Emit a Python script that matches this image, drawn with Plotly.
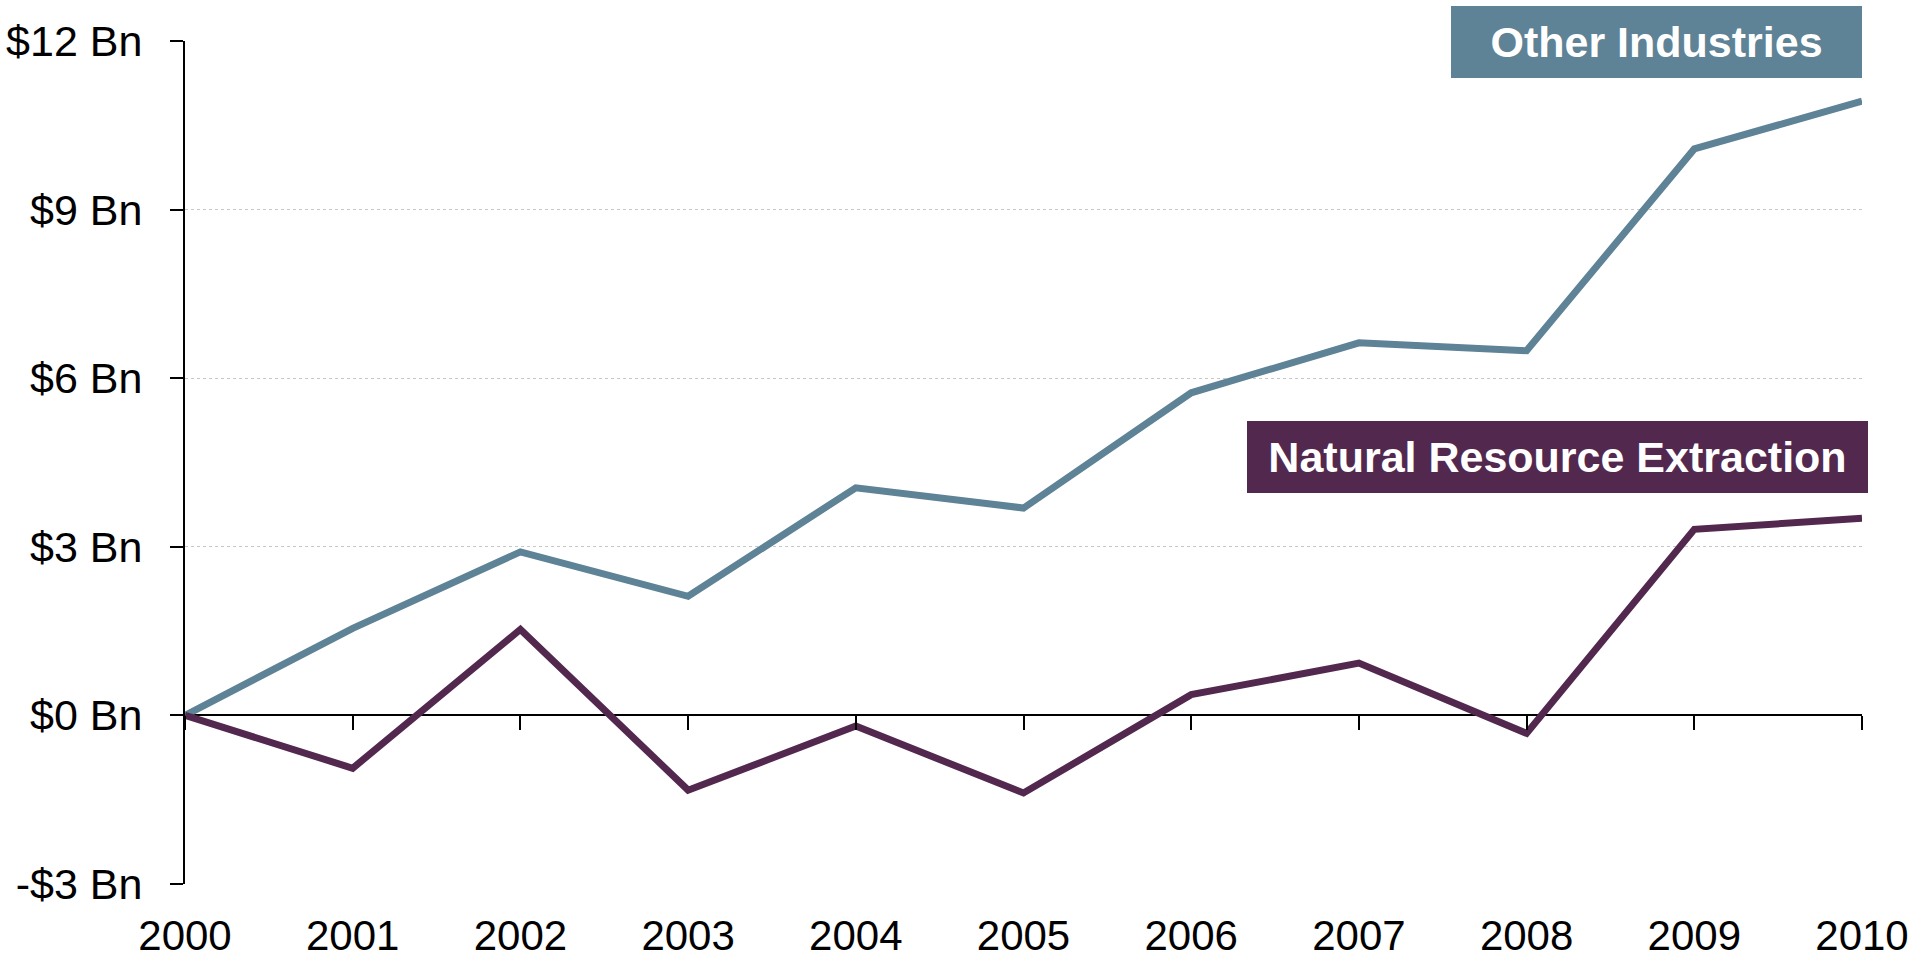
import plotly.graph_objects as go

years = [2000, 2001, 2002, 2003, 2004, 2005, 2006, 2007, 2008, 2009, 2010]
other_industries = [0, 1.55, 2.91, 2.12, 4.05, 3.69, 5.74, 6.63, 6.49, 10.08, 10.93]
natural_resource = [0, -0.94, 1.53, -1.33, -0.19, -1.38, 0.37, 0.93, -0.32, 3.31, 3.51]
y_ticks = [-3, 0, 3, 6, 9, 12]
y_labels = ["-$3 Bn", "$0 Bn", "$3 Bn", "$6 Bn", "$9 Bn", "$12 Bn"]

BLUE = "#5E8296"
PURPLE = "#53284F"
FONT = "Liberation Sans, Arial, sans-serif"

fig = go.Figure()
fig.add_trace(go.Scatter(x=years, y=other_industries, mode="lines", name="Other Industries",
                         line=dict(color=BLUE, width=7)))
fig.add_trace(go.Scatter(x=years, y=natural_resource, mode="lines", name="Natural Resource Extraction",
                         line=dict(color=PURPLE, width=7)))
# invisible copy so the zero-line tick axis gets drawn
fig.add_trace(go.Scatter(x=years, y=other_industries, xaxis="x2", mode="lines",
                         line=dict(width=0), opacity=0, hoverinfo="skip", showlegend=False))

y_min, y_max = y_ticks[0], y_ticks[-1]

fig.update_layout(
    width=1931, height=960,
    margin=dict(l=185, r=69, t=41, b=76),
    plot_bgcolor="white", paper_bgcolor="white",
    showlegend=False,
    font=dict(family=FONT, size=43, color="black"),
    xaxis=dict(range=[years[0], years[-1]], tickvals=years, showline=False, showgrid=False,
               zeroline=False, ticks="", ticklabelstandoff=23, automargin=False,
               tickfont=dict(size=42)),
    xaxis2=dict(overlaying="x", anchor="free", position=(0 - y_min) / (y_max - y_min),
                range=[years[0], years[-1]], tickvals=years, showticklabels=False,
                ticks="outside", ticklen=14, tickwidth=2, tickcolor="black",
                showline=False, showgrid=False, zeroline=False, automargin=False),
    yaxis=dict(range=[y_min, y_max], tickvals=y_ticks, ticktext=y_labels,
               showline=True, linecolor="black", linewidth=2,
               ticks="outside", ticklen=13, tickwidth=2, tickcolor="black",
               ticklabelstandoff=19, automargin=False,
               showgrid=True, gridcolor="#c8c8c8", gridwidth=1, griddash="dot",
               zeroline=True, zerolinecolor="black", zerolinewidth=2,
               tickfont=dict(size=43)),
)

fig.add_annotation(text="<b>Other Industries</b>", xref="paper", yref="paper",
                   x=1.0, y=1.0415, xanchor="right", yanchor="top",
                   showarrow=False, bgcolor=BLUE, width=411, height=72,
                   borderpad=0, borderwidth=0,
                   font=dict(family=FONT, size=43, color="white"))
fig.add_annotation(text="<b>Natural Resource Extraction</b>", xref="paper", yref="paper",
                   x=1.0036, y=0.5492, xanchor="right", yanchor="top",
                   showarrow=False, bgcolor=PURPLE, width=621, height=72,
                   borderpad=0, borderwidth=0,
                   font=dict(family=FONT, size=43, color="white"))

# drop the browser's default body margin so the figure fills the window
fig.write_html("out.html", config={"displayModeBar": False},
               post_script="document.body.style.margin = '0';")
